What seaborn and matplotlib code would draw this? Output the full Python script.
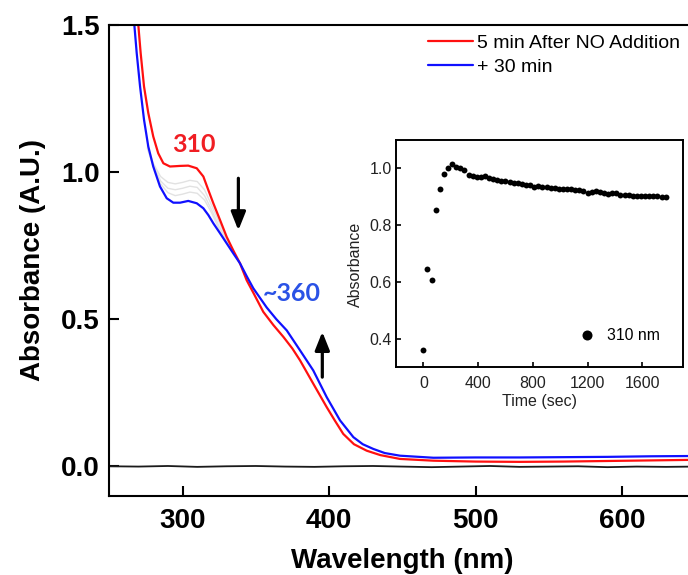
import numpy as np
import pandas as pd
import matplotlib
matplotlib.use("Agg")
import matplotlib.pyplot as plt
import seaborn as sns

# ---------------- data ----------------
red_nm = [263, 268, 269.8, 271.4, 273.7, 276.6, 280.0, 283.4, 286.9, 291.4, 295.0, 298.2,
          303.9, 309.7, 314.2, 317.6, 321.0, 325.6, 330.1, 334.6, 339.2, 343.8, 348.3,
          355.1, 362.0, 368.8, 375.0, 380.2, 389.2, 398.4, 404.0, 409.7, 417.0, 425.7,
          435.0, 448.4, 471.2, 500, 530, 560, 590, 620, 650]
red_abs = [1.85, 1.58, 1.50, 1.405, 1.291, 1.201, 1.121, 1.064, 1.030, 1.019, 1.020, 1.021,
           1.022, 1.013, 0.985, 0.939, 0.894, 0.837, 0.780, 0.734, 0.690, 0.632, 0.590,
           0.525, 0.480, 0.440, 0.400, 0.360, 0.281, 0.201, 0.155, 0.110, 0.075, 0.053,
           0.038, 0.025, 0.019, 0.016, 0.015, 0.016, 0.018, 0.020, 0.022]

blue_nm = [261, 265, 267.1, 268.7, 271.0, 273.7, 276.6, 280.0, 284.6, 289.2, 293.7, 298.3,
           303.9, 309.7, 314.2, 317.6, 321.0, 325.6, 330.1, 334.6, 339.2, 343.8, 348.3,
           357.4, 364.0, 371.1, 380.2, 389.2, 398.4, 407.5, 416.6, 423.0, 430.2, 438.0,
           448.4, 471.2, 500, 530, 560, 590, 620, 650]
blue_abs = [1.85, 1.62, 1.50, 1.405, 1.291, 1.178, 1.087, 1.019, 0.951, 0.911, 0.896, 0.896,
            0.902, 0.894, 0.877, 0.854, 0.826, 0.792, 0.758, 0.724, 0.690, 0.646, 0.605,
            0.540, 0.500, 0.462, 0.394, 0.326, 0.235, 0.156, 0.099, 0.075, 0.059, 0.045,
            0.036, 0.029, 0.030, 0.030, 0.031, 0.032, 0.034, 0.035]

gray_nm = [276, 280, 285, 290, 295, 300, 305, 310, 315, 320, 325, 330, 335]
gray1_abs = [1.09, 1.03, 0.985, 0.965, 0.960, 0.965, 0.972, 0.968, 0.940, 0.885, 0.830, 0.775, 0.730]
gray2_abs = [1.085, 1.025, 0.970, 0.945, 0.940, 0.945, 0.952, 0.948, 0.920, 0.870, 0.815, 0.770, 0.727]
gray3_abs = [1.080, 1.020, 0.960, 0.930, 0.920, 0.925, 0.932, 0.928, 0.905, 0.860, 0.805, 0.765, 0.725]

base_nm = [250, 270, 290, 310, 330, 350, 370, 390, 410, 430, 450, 470, 490, 510, 530,
           550, 570, 590, 610, 630, 650]
base_abs = [0.000, -0.001, 0.001, -0.002, 0.000, 0.001, -0.001, -0.002, 0.000, 0.001,
            -0.001, -0.003, -0.001, 0.001, -0.002, -0.001, 0.000, -0.003, -0.001, -0.002, -0.001]

inset_time = [0, 30, 60, 90, 120, 150, 180, 210, 240, 270, 300, 330, 360, 390, 420, 450,
              480, 510, 540, 570, 600, 630, 660, 690, 720, 750, 780, 810, 840, 870, 900,
              930, 960, 990, 1020, 1050, 1080, 1110, 1140, 1170, 1200, 1230, 1260, 1290,
              1320, 1350, 1380, 1410, 1440, 1470, 1500, 1530, 1560, 1590, 1620, 1650,
              1680, 1710, 1740, 1770]
inset_abs = [0.360, 0.646, 0.608, 0.852, 0.929, 0.981, 1.003, 1.015, 1.006, 1.002, 0.993,
             0.976, 0.972, 0.971, 0.970, 0.972, 0.966, 0.962, 0.958, 0.957, 0.955, 0.953,
             0.950, 0.948, 0.945, 0.942, 0.940, 0.936, 0.938, 0.934, 0.935, 0.931, 0.932,
             0.928, 0.929, 0.927, 0.926, 0.924, 0.923, 0.920, 0.915, 0.917, 0.919, 0.917,
             0.913, 0.911, 0.913, 0.912, 0.908, 0.906, 0.905, 0.904, 0.903, 0.903, 0.903,
             0.903, 0.902, 0.902, 0.901, 0.899]

x_ticks = [300, 400, 500, 600]
y_ticks = [0.0, 0.5, 1.0, 1.5]
inset_x_ticks = [0, 400, 800, 1200, 1600]
inset_y_ticks = [0.4, 0.6, 0.8, 1.0]

# ---------------- style ----------------
sns.set_style("ticks")
plt.rcParams['font.family'] = ['Liberation Sans', 'DejaVu Sans']
plt.rcParams.update({'text.color': 'black', 'axes.labelcolor': 'black',
                     'xtick.color': 'black', 'ytick.color': 'black'})

fig = plt.figure(figsize=(6.88, 5.75), dpi=100)
ax = fig.add_axes([109.3 / 688, 1 - 495.7 / 575, 586 / 688, 470.7 / 575])

for xs, ys in [(gray_nm, gray3_abs), (gray_nm, gray2_abs), (gray_nm, gray1_abs)]:
    sns.lineplot(x=xs, y=ys, ax=ax, color='#e2e2e2', lw=1.0, sort=False, estimator=None)
sns.lineplot(x=base_nm, y=base_abs, ax=ax, color='#1a1a1a', lw=1.3, sort=False, estimator=None)
sns.lineplot(x=red_nm, y=red_abs, ax=ax, color='#ff1010', lw=1.6, sort=False, estimator=None)
sns.lineplot(x=blue_nm, y=blue_abs, ax=ax, color='#1010ff', lw=1.6, sort=False, estimator=None)

ax.set_xlim(250, 650)
ax.set_ylim(-0.1, 1.5)
ax.set_xticks(x_ticks)
ax.set_yticks(y_ticks)
ax.set_xticklabels([str(v) for v in x_ticks])
ax.set_yticklabels([f"{v:.1f}" for v in y_ticks])
ax.tick_params(direction='in', length=7, width=1.5, labelsize=20, color='black',
               labelcolor='black')
ax.tick_params(axis='x', pad=9)
ax.tick_params(axis='y', pad=7)
for lab in ax.get_xticklabels() + ax.get_yticklabels():
    lab.set_fontweight('bold')
for side in ['left', 'bottom', 'top', 'right']:
    ax.spines[side].set_linewidth(1.5)
    ax.spines[side].set_color('black')

ax.set_xlabel("Wavelength (nm)", fontsize=20, fontweight='bold', color='black')
ax.set_ylabel("Absorbance (A.U.)", fontsize=20, fontweight='bold', color='black')
ax.xaxis.set_label_coords(0.5, -0.112)
ax.yaxis.set_label_coords(-0.108, 0.5)

# annotations
ax.text(307.8, 1.093, "310", color='#f01e23', fontsize=18, fontweight='bold',
        family=['Lato', 'DejaVu Sans'], ha='center', va='center')
ax.text(374.5, 0.587, "~360", color='#2a52e6', fontsize=18, fontweight='bold',
        family=['Lato', 'DejaVu Sans'], ha='center', va='center')
arrow_kw = dict(arrowstyle='-|>,head_length=0.55,head_width=0.22', lw=2.3, color='black',
                shrinkA=0, shrinkB=0, mutation_scale=20)
ax.annotate('', xy=(338.1, 0.802), xytext=(338.1, 0.979), arrowprops=arrow_kw)
ax.annotate('', xy=(395.4, 0.457), xytext=(395.4, 0.303), arrowprops=arrow_kw)

# legend
from matplotlib.lines import Line2D
handles = [Line2D([], [], color='#ff1010', lw=1.6), Line2D([], [], color='#1010ff', lw=1.6)]
fig.legend(handles, ["5 min After NO Addition", "+ 30 min"], loc='upper left',
           bbox_to_anchor=(428.3 / 688, 1 - 34 / 575), bbox_transform=fig.transFigure,
           frameon=False, fontsize=14, handlelength=2.31, handletextpad=0.17,
           borderpad=0, borderaxespad=0, labelspacing=0.35)

# ---------------- inset ----------------
axi = fig.add_axes([396 / 688, 1 - 367.3 / 575, 287.4 / 688, 227.3 / 575])
sns.scatterplot(x=inset_time, y=inset_abs, ax=axi, color='black', s=18, edgecolor='black',
                linewidth=0, label="310 nm")
axi.set_xlim(-200, 1900)
axi.set_ylim(0.3, 1.1)
axi.set_xticks(inset_x_ticks)
axi.set_yticks(inset_y_ticks)
axi.set_yticklabels([f"{v:.1f}" for v in inset_y_ticks])
axi.tick_params(direction='in', length=3.5, width=1.2, labelsize=11.5, color='black',
                labelcolor='#222222')
axi.tick_params(axis='x', pad=6)
axi.tick_params(axis='y', pad=3)
for side in ['left', 'bottom', 'top', 'right']:
    axi.spines[side].set_linewidth(1.4)
    axi.spines[side].set_color('black')
axi.set_xlabel("Time (sec)", fontsize=11.5, color='#222222')
axi.set_ylabel("Absorbance", fontsize=11.5, color='#222222')
axi.xaxis.set_label_coords(0.5, -0.117)
axi.yaxis.set_label_coords(-0.115, 0.454)
axi.legend(loc='center left', bbox_to_anchor=(0.636, 0.142), frameon=False, fontsize=11.3,
           markerscale=1.7, handlelength=1.0, handletextpad=0.78, borderpad=0,
           borderaxespad=0)

fig.savefig("out.png", dpi=100)
